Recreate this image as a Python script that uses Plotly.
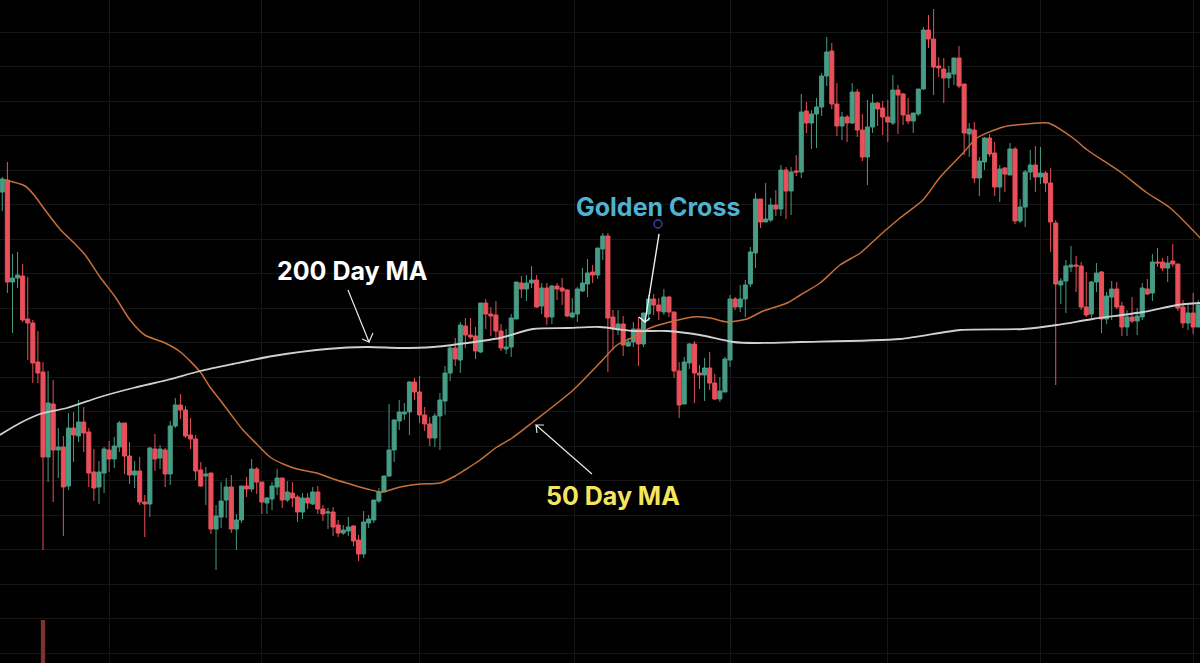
# Golden cross candlestick chart, 50 and 200 day moving averages

import plotly.graph_objects as go

W = 1200
H = 663

opens = [471,483,381,385,387,344,340,301,291,206,
         259,213,216,177,235,227,241,231,191,176,
         190,213,204,216,240,207,188,192,161,159,
         214,205,213,189,237,258,253,228,224,193,
         187,190,134,146,163,176,134,143,177,174,
         194,181,160,164,176,185,163,170,166,151,
         165,159,171,154,150,151,138,130,132,137,
         123,109,140,143,162,171,187,213,242,249,
         251,281,271,248,239,225,247,262,290,315,
         303,337,328,327,311,360,349,348,332,314,
         316,344,380,374,380,383,357,375,346,377,
         375,373,346,349,372,379,391,388,414,427,
         346,333,339,317,321,334,319,349,364,358,
         351,366,351,292,259,300,319,290,288,295,
         280,264,271,303,364,356,364,379,410,464,
         441,443,458,454,493,472,492,491,552,540,
         549,556,587,612,559,537,546,540,571,533,
         506,536,560,555,546,540,573,569,548,542,
         549,574,633,624,597,594,585,589,605,579,
         529,533,485,501,525,510,476,495,488,514,
         442,456,491,498,486,490,480,440,378,382,
         396,398,397,356,349,381,391,344,366,374,
         357,336,346,342,346,374,370,401,401,395,
         402,399,356,340,350,336]
closes = [484,381,385,388,343,340,300,290,206,260,
          213,216,176,235,228,241,230,190,175,191,
          214,204,217,240,207,188,192,161,159,215,
          204,214,189,237,258,253,227,224,192,177,
          189,134,147,162,176,134,143,177,174,194,
          181,161,165,177,185,163,171,165,151,165,
          160,171,154,149,151,136,130,133,136,122,
          109,141,144,163,171,187,213,243,251,251,
          281,271,248,239,225,247,263,290,315,304,
          338,328,326,312,360,349,347,332,315,316,
          345,381,374,380,383,356,375,346,377,374,
          372,347,350,374,380,390,388,415,427,345,
          334,339,318,321,334,319,350,364,358,352,
          366,351,292,258,301,319,290,288,295,280,
          264,272,304,364,356,364,378,411,464,441,
          444,458,454,493,472,491,491,551,540,549,
          556,587,611,559,537,546,540,571,533,506,
          536,560,554,546,541,573,568,548,542,550,
          574,633,624,596,595,585,590,605,577,530,
          534,485,502,525,509,476,494,489,514,442,
          456,491,498,486,490,480,441,379,382,397,
          398,397,356,348,381,390,344,367,374,356,
          336,346,342,347,375,369,401,400,395,400,
          399,355,340,350,336,358]
highs = [486,501,409,411,399,386,343,332,301,292,
         283,235,227,250,251,263,256,235,214,202,
         216,222,226,242,240,221,202,206,168,216,
         229,218,215,242,265,269,257,245,228,201,
         196,190,158,181,185,188,149,177,186,204,
         196,181,166,181,194,185,182,181,168,170,
         170,176,177,158,155,156,143,138,146,138,
         128,152,148,163,175,187,259,244,263,260,
         282,285,287,256,246,250,270,297,317,325,
         341,345,345,336,360,364,356,362,339,334,
         349,381,387,388,397,388,380,380,378,380,
         385,374,365,376,395,404,398,415,430,430,
         353,353,347,325,341,346,350,368,369,365,
         374,367,351,301,306,320,322,298,305,311,
         289,286,306,368,366,378,383,416,470,464,
         480,465,473,498,496,496,508,569,561,553,
         565,590,626,620,580,551,548,580,574,549,
         563,569,561,562,563,588,578,570,565,550,
         574,636,648,654,606,605,597,605,617,579,
         540,541,506,526,529,521,498,496,520,516,
         464,493,513,517,516,492,495,443,385,403,
         417,407,401,391,382,400,392,371,382,381,
         361,353,366,355,380,384,409,415,405,407,
         419,399,363,358,370,363]
lows = [452,370,330,375,341,303,280,280,113,181,
        161,185,127,173,201,221,211,176,162,159,
        170,191,195,211,189,179,175,158,126,146,
        192,194,176,178,235,244,225,214,183,176,
        158,129,93,135,145,130,113,140,166,171,
        169,149,149,153,168,155,161,156,141,144,
        154,158,149,142,134,127,126,128,127,117,
        102,105,135,140,160,171,186,201,233,243,
        228,263,240,232,217,216,213,248,282,297,
        290,315,324,304,310,334,327,326,312,309,
        306,344,365,362,375,355,349,338,339,363,
        358,346,345,341,371,366,380,384,403,291,
        313,328,307,316,316,297,316,342,348,343,
        348,346,285,245,259,294,260,274,262,273,
        263,261,271,296,353,351,346,376,395,435,
        441,441,447,447,444,448,487,485,530,514,
        515,547,577,554,527,523,521,539,526,502,
        478,530,537,528,521,538,529,538,539,530,
        547,573,615,568,586,560,575,578,575,508,
        506,480,467,493,506,467,461,471,488,439,
        440,436,483,471,479,471,411,278,359,350,
        391,371,353,346,345,371,330,339,343,354,
        327,327,340,328,343,368,362,396,392,381,
        396,352,335,333,329,336]
days = list(range(len(opens)))

ma50_days = [0.5,4.5,6.4,8.4,11.3,14.3,16.3,19.2,22.2,25.1,28,32,35,38.9,40.8,42.8,45.3,47.3,50,52.6,
             55.2,57.9,61.8,65,68.3,71.7,74.6,78.2,82.1,86,89,90.9,93.9,97.2,100.2,104.3,112.2,117.4,
             120.8,124,127.3,131.2,135.7,139.1,142.4,146.3,149.5,154.2,156.8,160.7,164.6,168.6,172.5,
             176.4,180.9,184.3,188.8,191.5,196.7,201.4,205.5,210.4,213.2,219.7,225,229.5,235.4]
ma50 = [483,477,467,453,434,419,408,386,366,343,328,320,311,291,276,263,246,233,219,206,
        199,194,190,184,179,174,171,176,179,180,187,193,203,216,225,241,273,300,
        318,326,335,341,346,345,341,344,352,360,368,380,398,410,428,
        445,463,486,510,525,536,539,540,525,513,491,470,455,425]
ma200_days = [-0.5,3.5,7.4,12.7,19.2,25.7,32.4,38.9,45.3,53.2,63.8,71.7,78.2,84.7,91.3,97.8,104.3,111,
              117.4,124,130.6,137.1,143.6,148.3,156.8,176.4,188.2,200.6,207.2,214.3,224.2,230.9,235.4]
ma200 = [228,240,249,255,266,275,283,292,299,307,314,316,315,316,320,325,334,335,
         336,332,332,328,321,320,321,324,333,334,338,344,351,358,360]

volume_days = [8]
volume = [43]

grid_days = [21, 51, 82, 112.5, 143, 174, 204, 234]

UP = "#469c85"
DOWN = "#e9505a"
GRID = "#161616"


def px(x):
    return x / W


def py(y):
    return 1 - y / H


def arrow_path(tail, tip, barb_a, barb_b):
    # open v head, all in picture pixels
    pts = [tail, tip, barb_a, tip, barb_b]
    return "M " + " L ".join(f"{px(x):.4f},{py(y):.4f}" for x, y in pts)


fig = go.Figure()
fig.add_trace(
    go.Bar(x=volume_days, y=volume, width=0.85, marker=dict(color="#7c3231", line=dict(width=0)))
)
fig.add_trace(
    go.Candlestick(
        x=days,
        open=opens,
        high=highs,
        low=lows,
        close=closes,
        whiskerwidth=0,
        increasing=dict(line=dict(color=UP, width=1), fillcolor=UP),
        decreasing=dict(line=dict(color=DOWN, width=1), fillcolor=DOWN),
    )
)
fig.add_trace(
    go.Scatter(x=ma50_days, y=ma50, mode="lines", line=dict(color="#c8703a", width=1.5, shape="spline", smoothing=0.7))
)
fig.add_trace(
    go.Scatter(x=ma200_days, y=ma200, mode="lines", line=dict(color="#cfcfcf", width=1.8, shape="spline", smoothing=0.7))
)

labels = [
    ("200 Day MA", 352, 271, "#ffffff"),
    ("Golden Cross", 658, 207, "#4fb2d0"),
    ("50 Day MA", 613, 496, "#f6e45e"),
]
annotations = [
    dict(
        text=f"<b>{text}</b>",
        x=px(x),
        y=py(y),
        xref="paper",
        yref="paper",
        showarrow=False,
        xanchor="center",
        yanchor="middle",
        font=dict(family="Inter", size=25, color=color),
    )
    for text, x, y, color in labels
]

shapes = [
    dict(type="path", xref="paper", yref="paper", line=dict(color="#e6e6e6", width=1.2),
         path=arrow_path((348, 290), (369, 342), (362, 339), (373, 333))),
    dict(type="path", xref="paper", yref="paper", line=dict(color="#e6e6e6", width=1.2),
         path=arrow_path((592, 474), (536, 425), (544, 425), (537, 433))),
    dict(type="path", xref="paper", yref="paper", line=dict(color="#f0f0f0", width=1.4),
         path=arrow_path((659, 234), (645, 322), (639, 317), (650, 318))),
    dict(type="circle", xref="paper", yref="paper", line=dict(color="#3345b0", width=1.4),
         x0=px(654), x1=px(662), y0=py(228), y1=py(220)),
]

fig.update_layout(
    width=W,
    height=H,
    margin=dict(l=0, r=0, t=0, b=0),
    paper_bgcolor="#000000",
    plot_bgcolor="#000000",
    showlegend=False,
    boxgap=0.2,
    boxgroupgap=0,
    annotations=annotations,
    shapes=shapes,
    xaxis=dict(
        range=[-0.45, 235.35],
        rangeslider=dict(visible=False),
        tickmode="array",
        tickvals=grid_days,
        showticklabels=False,
        ticks="",
        gridcolor=GRID,
        gridwidth=1,
        zeroline=False,
    ),
    yaxis=dict(
        range=[0, 663],
        tick0=10,
        dtick=34.5,
        showticklabels=False,
        ticks="",
        gridcolor=GRID,
        gridwidth=1,
        zeroline=False,
    ),
)

# browser default body margin would push the chart off by 8px
fig.write_html(
    "out.html",
    config=dict(displayModeBar=False),
    post_script="document.body.style.margin='0';document.body.style.background='#000';",
)
